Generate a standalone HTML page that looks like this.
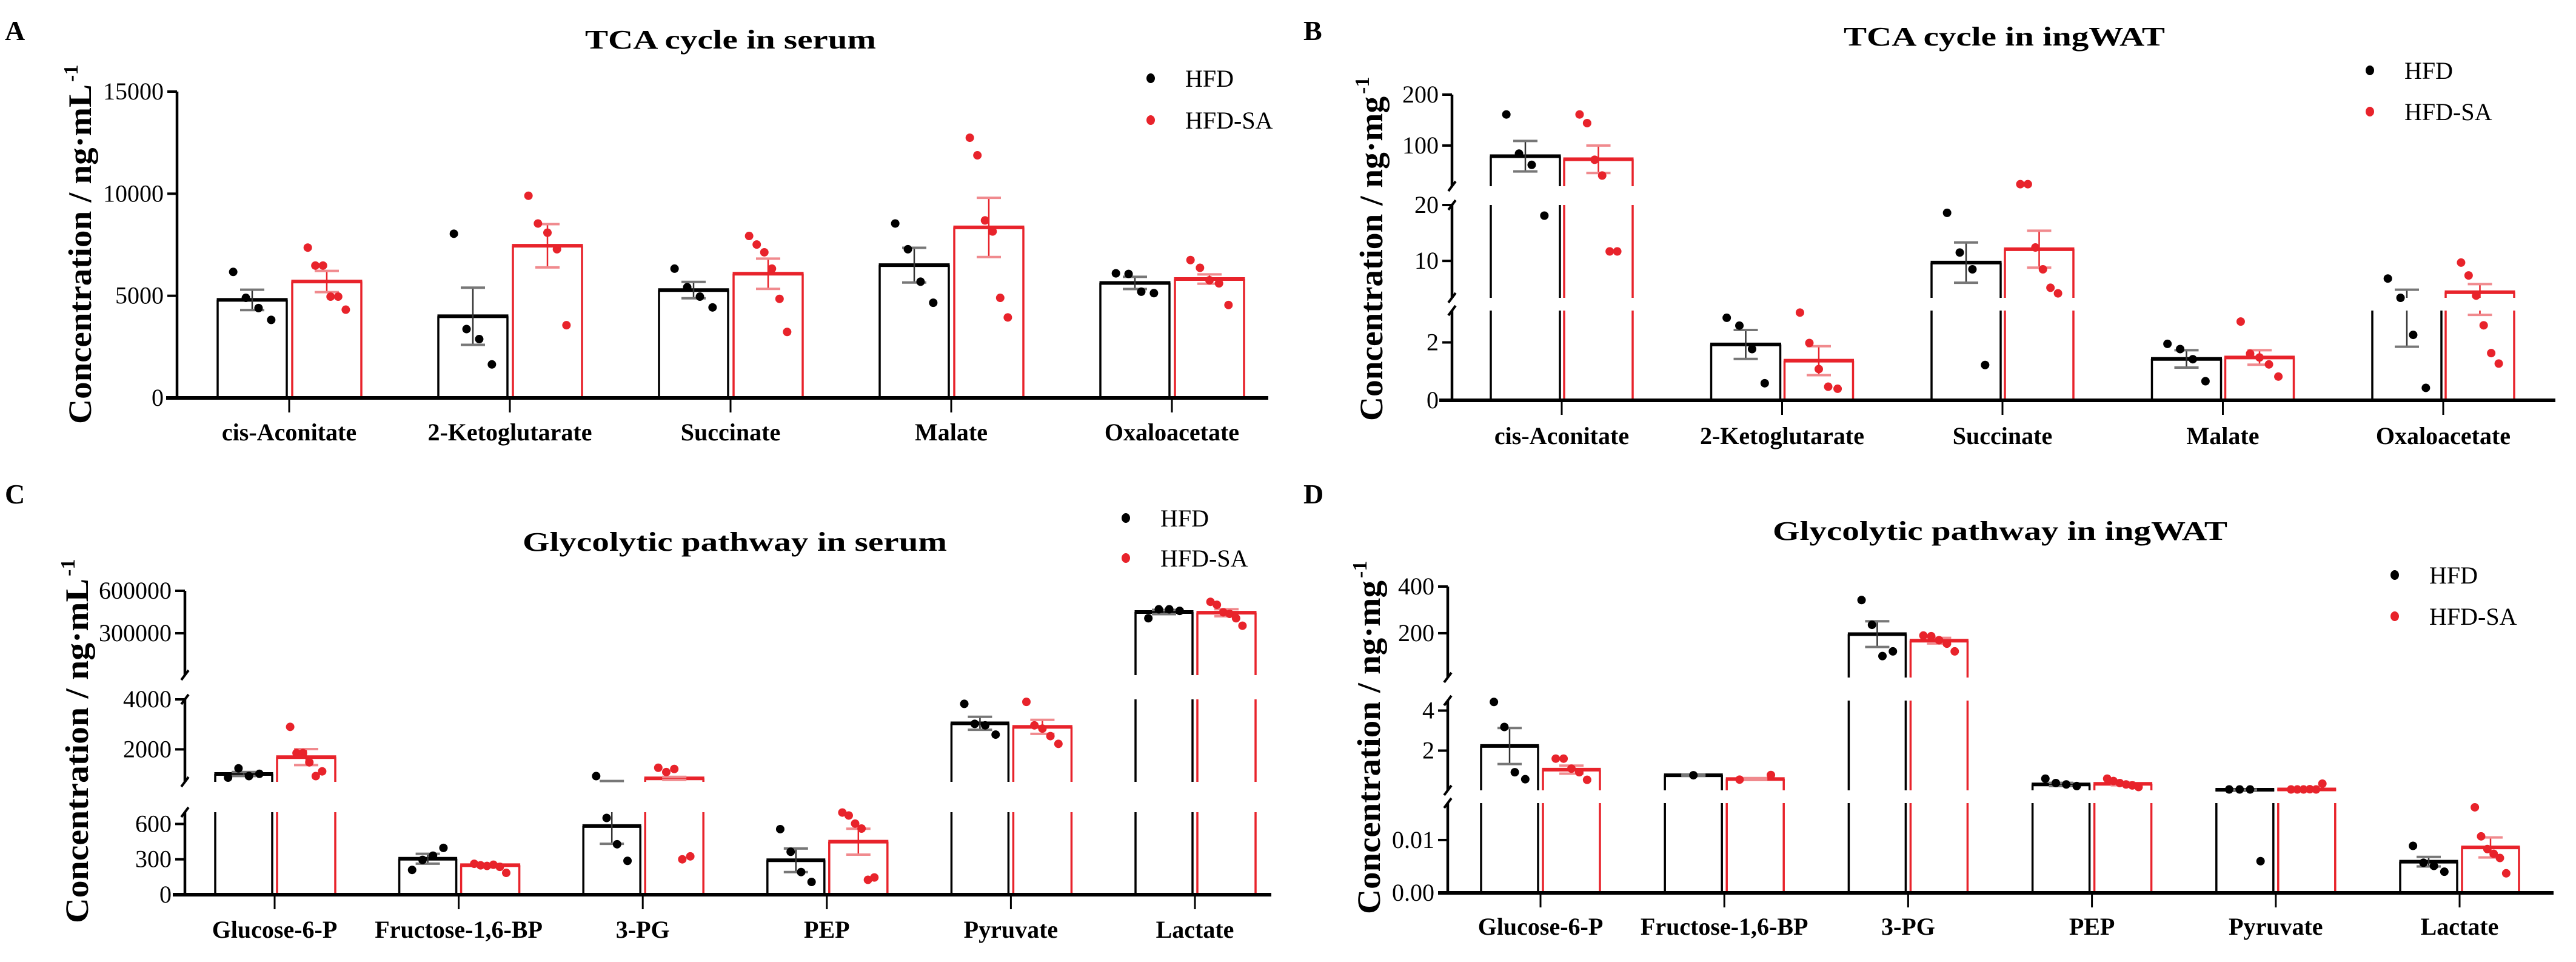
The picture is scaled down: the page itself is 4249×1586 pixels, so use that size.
<!DOCTYPE html>
<html><head><meta charset="utf-8"><style>
html,body{margin:0;padding:0;background:#fff;}
svg{display:block;font-family:"Liberation Serif",serif;}
svg text{font-family:"Liberation Serif","Times New Roman",serif;}
</style></head><body>
<svg id="fig" xmlns="http://www.w3.org/2000/svg" width="4249" height="1586" viewBox="0 0 4249 1586" font-family="Liberation Serif, serif"></svg>
<script>
// ---------- Panel A data ----------
const aCats=['cis-Aconitate','2-Ketoglutarate','Succinate','Malate','Oxaloacetate'];
const aTicks=[0,5000,10000,15000];
const aTickLabels=['0','5000','10000','15000'];
const aHfdMean=[4800,4000,5280,6500,5630];
const aHfdSem=[500,1400,400,850,300];
const aHfdPts=[[6170,4900,4400,3820],[8040,3370,2880,1640],[6330,5420,4960,4430],[8540,7280,5690,4660],[6100,6070,5200,5130]];
const aSaMean=[5700,7450,6080,8350,5820];
const aSaSem=[520,1060,740,1450,230];
const aSaPts=[[7360,6480,6480,4960,4960,4320],[9900,8540,8090,7280,3560],[7930,7510,7130,6330,4850,3230],[12740,11880,8690,8150,4900,3940],[6750,6370,5760,5610,4550]];
// ---------- Panel B data ----------
const bCats=['cis-Aconitate','2-Ketoglutarate','Succinate','Malate','Oxaloacetate'];
const bTicks=[0,2,10,20,100,200];
const bTickLabels=['0','2','10','20','100','200'];
const bHfdMean=[79,1.93,9.7,1.43,3.35];
const bHfdSem=[30,0.5,3.6,0.3,1.5];
const bHfdPts=[[161,84,62,18.1],[2.85,2.58,1.77,0.59],[18.6,11.5,8.5,1.22],[1.95,1.77,1.42,0.66],[6.85,3.4,2.26,0.43]];
const bSaMean=[73,1.37,12.1,1.48,4.4];
const bSaSem=[27,0.5,3.3,0.25,1.45];
const bSaPts=[[161,144,72,41,11.7,11.7],[3.03,1.98,1.08,0.47,0.4],[24,24,12.4,8.5,5.2,4.2],[2.72,1.61,1.48,1.24,0.82],[9.7,7.4,3.8,2.59,1.63,1.27]];
// ---------- Panel C data ----------
const cCats=['Glucose-6-P','Fructose-1,6-BP','3-PG','PEP','Pyruvate','Lactate'];
const cTicks=[0,300,600,2000,4000,300000,600000];
const cTickLabels=['0','300','600','2000','4000','300000','600000'];
const cHfdMean=[1015,305,582,292,3043,450000];
const cHfdSem=[80,42,150,100,260,15000];
const cHfdPts=[[870,1240,930,1020],[210,295,331,397],[930,651,428,287],[556,364,192,108],[3820,3020,2960,2590],[406000,469000,469000,458000]];
const cSaMean=[1690,250,840,450,2900,445000];
const cSaSem=[320,10,60,110,280,25000];
const cSaPts=[[2900,1850,1850,1480,930,1120],[262,249,244,254,236,185],[1264,1092,1215,300,325],[697,672,603,561,126,146],[3900,2960,2830,2530,2220],[522000,501000,448000,437000,406000,353000]];
// ---------- Panel D data ----------
const dCats=['Glucose-6-P','Fructose-1,6-BP','3-PG','PEP','Pyruvate','Lactate'];
const dTicks=[0,0.01,2,4,200,400];
const dTickLabels=['0.00','0.01','2','4','200','400'];
const dHfdMean=[2.23,0.77,196,0.31,0.046,0.0059];
const dHfdSem=[0.9,0.03,55,0.08,0.01,0.0009];
const dHfdPts=[[4.43,3.18,0.92,0.57],[0.77],[342,236,102,122],[0.6,0.38,0.31,0.23],[0.06,0.06,0.06,0.006],[0.0089,0.0057,0.0051,0.004]];
const dSaMean=[1.05,0.58,168,0.34,0.06,0.0086];
const dSaSem=[0.2,0.05,12,0.07,0.01,0.0019];
const dSaPts=[[1.6,1.6,1.1,0.92,0.54],[0.55,0.78],[190,187,170,155,122],[0.6,0.48,0.38,0.31,0.26,0.18],[0.06,0.06,0.06,0.07,0.06,0.35],[0.0162,0.0107,0.0083,0.0074,0.0066,0.0037]];

const NS='http://www.w3.org/2000/svg';
const svg=document.getElementById('fig');
const RED='#e8232b';
function mk(tag,parent){const e=document.createElementNS(NS,tag);parent.appendChild(e);return e;}
function segY(s,v){return s.yLo-(v-s.lo)/(s.hi-s.lo)*(s.yLo-s.yHi);}
function findSeg(segs,v){for(const s of segs){if(v>=s.lo&&v<=s.hi)return s;}return null;}
function yOf(segs,v){const s=findSeg(segs,v);if(s)return segY(s,v);
  if(v<segs[0].lo)return segs[0].yLo;
  for(let i=0;i<segs.length;i++){if(v>segs[i].hi&&(i===segs.length-1||v<segs[i+1].lo))return segs[i].yHi;}
  return segs[segs.length-1].yHi;}
function line(g,x1,y1,x2,y2,c,w){const l=mk('line',g);l.setAttribute('x1',x1);l.setAttribute('y1',y1);l.setAttribute('x2',x2);l.setAttribute('y2',y2);l.setAttribute('stroke',c);l.setAttribute('stroke-width',w);return l;}
function text(g,x,y,str,size,weight,anchor){const t=mk('text',g);t.setAttribute('x',x);t.setAttribute('y',y);t.setAttribute('font-size',size);t.setAttribute('font-weight',weight);t.setAttribute('text-anchor',anchor);t.setAttribute('font-family','Liberation Serif, serif');t.textContent=str;return t;}

function drawPanel(P){
  const g=mk('g',svg);
  
  
  const segs=P.segs;
  const lt=text(g,P.letterX,P.letterY,P.letter,46,'bold','start');
  
  
  const tt=text(g,P.titleX,P.titleY,P.title,44,'bold','middle');
  tt.setAttribute('textLength',P.titleLen);tt.setAttribute('lengthAdjust','spacingAndGlyphs');
  
  
  const yt=text(g,0,0,P.yTitle,54,'bold','start');
  yt.setAttribute('transform','translate('+P.yTitleX+','+P.yTitleY0+') rotate(-90)');
  yt.setAttribute('textLength',P.yTitleLen);yt.setAttribute('lengthAdjust','spacingAndGlyphs');
  
  
  const ys=text(g,0,0,'-1',34,'bold','start');
  ys.setAttribute('transform','translate('+(P.yTitleX-22)+','+(P.yTitleY0-P.yTitleLen-4)+') rotate(-90)');
  
  

  const n=P.cats.length;
  const cx=i=>P.x0+i*P.step;
  const series=[{mean:P.hfdMean,sem:P.hfdSem,pts:P.hfdPts,c:'#000',ec:'#333',cap:'#777',off:P.offH,nm:'hfd'},
                {mean:P.saMean,sem:P.saSem,pts:P.saPts,c:RED,ec:RED,cap:'#f08a8e',off:P.offS,nm:'hfd-sa'}];
  for(const S of series){
    for(let i=0;i<n;i++){
      const bg=mk('g',g);
      
      
      const xl=cx(i)+S.off[0], xr=cx(i)+S.off[1];
      const m=S.mean[i];
      for(const s of segs){
        const top=Math.min(m,s.hi);
        if(top<=s.lo)continue;
        const yb=segY(s,s.lo), yt2=segY(s,top);
        const r=mk('rect',bg);r.setAttribute('x',xl);r.setAttribute('y',yt2);r.setAttribute('width',xr-xl);r.setAttribute('height',Math.max(0,yb-yt2));r.setAttribute('fill','#fff');
        line(bg,xl,yb,xl,yt2,S.c,3.5);line(bg,xr,yb,xr,yt2,S.c,3.5);
        if(m>=s.lo&&m<=s.hi)line(bg,xl-1.5,yt2,xr+1.5,yt2,S.c,6);
      }
      const eg=mk('g',g);
      
      
      const ex=(xl+xr)/2, a=m-S.sem[i], b=m+S.sem[i];
      for(const s of segs){const lo=Math.max(a,s.lo),hi=Math.min(b,s.hi);if(lo<hi)line(eg,ex,segY(s,lo),ex,segY(s,hi),S.ec,2.5);}
      for(const v of [a,b]){if(findSeg(segs,v)){const yy=yOf(segs,v);line(eg,ex-20,yy,ex+20,yy,S.cap,4);}}
    }
  }
  const ax=mk('g',g);
  
  
  for(let k=0;k<segs.length;k++){
    const s=segs[k];
    line(ax,P.axisX,s.yLo,P.axisX,s.yHi,'#000',4.5);
    if(segs.length>1){
      if(k>0)line(ax,P.axisX-6,s.yLo+8,P.axisX+6,s.yLo-8,'#000',4);
      if(k<segs.length-1)line(ax,P.axisX-6,s.yHi+8,P.axisX+6,s.yHi-8,'#000',4);
    }
  }
  for(let t=0;t<P.ticks.length;t++){
    const yy=yOf(segs,P.ticks[t]);
    line(ax,P.axisX-16,yy,P.axisX,yy,'#000',4);
    const tl=text(ax,P.axisX-22,yy+13,P.tickLabels[t],40,'normal','end');
    
    
  }
  const xa=mk('g',g);
  
  
  line(xa,P.xStart,P.xAxisY,P.xEnd,P.xAxisY,'#000',6);
  for(let i=0;i<n;i++){
    line(xa,cx(i),P.xAxisY,cx(i),P.xAxisY+24,'#000',3);
    const xl=text(xa,cx(i),P.xLabelY,P.cats[i],40,'bold','middle');
    
    
  }
  for(const S of series){
    for(let i=0;i<n;i++){
      const xl=cx(i)+S.off[0], xr=cx(i)+S.off[1];
      const c=(xl+xr)/2, w=(xr-xl)*0.55;
      const pts=S.pts[i];
      for(let j=0;j<pts.length;j++){
        const dx=pts.length>1?(-w/2+w*j/(pts.length-1)):0;
        const e=mk('ellipse',g);
        e.setAttribute('cx',c+dx);e.setAttribute('cy',yOf(segs,pts[j]));e.setAttribute('rx',7);e.setAttribute('ry',7);e.setAttribute('fill',S.c);
        
        
      }
    }
  }
  const lg=mk('g',g);
  
  
  const labs=['HFD','HFD-SA'],cols=['#000',RED];
  for(let k=0;k<2;k++){
    const yy=P.legY[k];
    const d=mk('ellipse',lg);d.setAttribute('cx',P.legX);d.setAttribute('cy',yy);d.setAttribute('rx',7);d.setAttribute('ry',8);d.setAttribute('fill',cols[k]);
    
    
    const lt2=text(lg,P.legX+57,yy+14,labs[k],40,'normal','start');
    
    
  }
}

drawPanel({name:'panel-a',letter:'A',letterX:8,letterY:66,title:'TCA cycle in serum',titleX:1205,titleY:80,titleLen:480,
  yTitle:'Concentration / ng·mL',yTitleX:150,yTitleY0:699,yTitleLen:560,
  segs:[{lo:0,hi:15000,yLo:656,yHi:151}],ticks:aTicks,tickLabels:aTickLabels,axisX:292,xAxisY:656,xStart:274,xEnd:2092,
  x0:477,step:364,offH:[-118,-4],offS:[5,119],xLabelY:726,legX:1898,legY:[129,198],
  cats:aCats,hfdMean:aHfdMean,hfdSem:aHfdSem,hfdPts:aHfdPts,saMean:aSaMean,saSem:aSaSem,saPts:aSaPts});
drawPanel({name:'panel-b',letter:'B',letterX:2150,letterY:66,title:'TCA cycle in ingWAT',titleX:3306,titleY:75,titleLen:530,
  yTitle:'Concentration / ng·mg',yTitleX:2280,yTitleY0:694,yTitleLen:535,
  segs:[{lo:0,hi:3.1,yLo:660,yHi:512},{lo:3.4,hi:20,yLo:491,yHi:338},{lo:20,hi:200,yLo:307,yHi:156}],
  ticks:bTicks,tickLabels:bTickLabels,axisX:2395,xAxisY:660,xStart:2374,xEnd:4215,
  x0:2576,step:363.5,offH:[-117,-3],offS:[4,117],xLabelY:732,legX:3909,legY:[116,184],
  cats:bCats,hfdMean:bHfdMean,hfdSem:bHfdSem,hfdPts:bHfdPts,saMean:bSaMean,saSem:bSaSem,saPts:bSaPts});
drawPanel({name:'panel-c',letter:'C',letterX:8,letterY:830,title:'Glycolytic pathway in serum',titleX:1212,titleY:908,titleLen:700,
  yTitle:'Concentration / ng·mL',yTitleX:145,yTitleY0:1522,yTitleLen:568,
  segs:[{lo:0,hi:700,yLo:1475,yHi:1339},{lo:700,hi:4000,yLo:1289,yHi:1153},{lo:4000,hi:600000,yLo:1113,yHi:974}],
  ticks:cTicks,tickLabels:cTickLabels,axisX:305,xAxisY:1475,xStart:285,xEnd:2097,
  x0:453,step:303.6,offH:[-98,-4],offS:[4,100],xLabelY:1546,legX:1857,legY:[854,920],
  cats:cCats,hfdMean:cHfdMean,hfdSem:cHfdSem,hfdPts:cHfdPts,saMean:cSaMean,saSem:cSaSem,saPts:cSaPts});
drawPanel({name:'panel-d',letter:'D',letterX:2150,letterY:830,title:'Glycolytic pathway in ingWAT',titleX:3299,titleY:890,titleLen:750,
  yTitle:'Concentration / ng·mg',yTitleX:2276,yTitleY0:1507,yTitleLen:550,
  segs:[{lo:0,hi:0.017,yLo:1472,yHi:1324},{lo:0.015,hi:4.5,yLo:1303,yHi:1155},{lo:10,hi:400,yLo:1117,yHi:967}],
  ticks:dTicks,tickLabels:dTickLabels,axisX:2388,xAxisY:1472,xStart:2372,xEnd:4212,
  x0:2541,step:303.2,offH:[-98,-4],offS:[4,98],xLabelY:1541,legX:3950,legY:[948,1016],
  cats:dCats,hfdMean:dHfdMean,hfdSem:dHfdSem,hfdPts:dHfdPts,saMean:dSaMean,saSem:dSaSem,saPts:dSaPts});
</script>
</body></html>
